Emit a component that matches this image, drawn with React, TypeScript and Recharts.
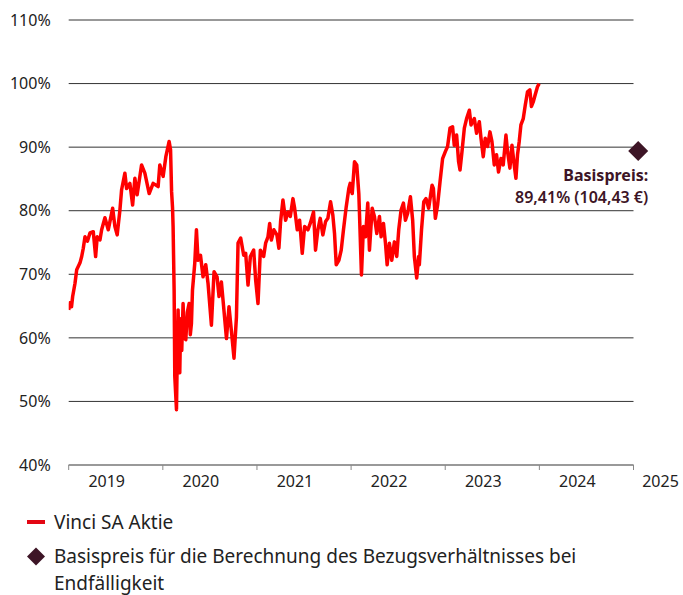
import { LineChart, Line, XAxis, YAxis, CartesianGrid, ReferenceDot } from 'recharts'

// Fractional year (Jan 2019 = 2019.0) and level in % of the strike price
const YEARS = [
  2019.0, 2019.014, 2019.03, 2019.042, 2019.067, 2019.085, 2019.12, 2019.138, 2019.155, 2019.173,
  2019.199, 2019.226, 2019.261, 2019.286, 2019.303, 2019.332, 2019.35, 2019.385, 2019.42, 2019.467,
  2019.491, 2019.515, 2019.544, 2019.562, 2019.597, 2019.615, 2019.65, 2019.679, 2019.703, 2019.727,
  2019.774, 2019.809, 2019.855, 2019.897, 2019.95, 2019.968, 2020.003, 2020.032, 2020.067, 2020.082,
  2020.093, 2020.103, 2020.109, 2020.12, 2020.127, 2020.145, 2020.154, 2020.162, 2020.172, 2020.18,
  2020.19, 2020.201, 2020.215, 2020.228, 2020.244, 2020.26, 2020.279, 2020.292, 2020.304, 2020.315,
  2020.339, 2020.357, 2020.374, 2020.4, 2020.427, 2020.456, 2020.48, 2020.516, 2020.544, 2020.576,
  2020.597, 2020.622, 2020.639, 2020.676, 2020.703, 2020.729, 2020.756, 2020.782, 2020.799, 2020.827,
  2020.859, 2020.88, 2020.905, 2020.93, 2020.965, 2020.986, 2021.011, 2021.036, 2021.071, 2021.092,
  2021.117, 2021.135, 2021.153, 2021.18, 2021.212, 2021.233, 2021.251, 2021.276, 2021.304, 2021.329,
  2021.354, 2021.382, 2021.4, 2021.428, 2021.453, 2021.481, 2021.506, 2021.541, 2021.566, 2021.601,
  2021.622, 2021.647, 2021.672, 2021.7, 2021.729, 2021.753, 2021.782, 2021.806, 2021.824, 2021.842,
  2021.87, 2021.895, 2021.919, 2021.948, 2021.976, 2021.99, 2022.012, 2022.036, 2022.06, 2022.082,
  2022.089, 2022.11, 2022.131, 2022.153, 2022.177, 2022.195, 2022.224, 2022.248, 2022.273, 2022.301,
  2022.319, 2022.344, 2022.365, 2022.383, 2022.407, 2022.432, 2022.46, 2022.485, 2022.506, 2022.531,
  2022.556, 2022.577, 2022.601, 2022.63, 2022.654, 2022.672, 2022.697, 2022.718, 2022.725, 2022.748,
  2022.772, 2022.796, 2022.824, 2022.86, 2022.874, 2022.895, 2022.919, 2022.945, 2022.972, 2023.001,
  2023.025, 2023.051, 2023.078, 2023.096, 2023.121, 2023.142, 2023.157, 2023.178, 2023.203, 2023.227,
  2023.256, 2023.274, 2023.309, 2023.333, 2023.362, 2023.38, 2023.404, 2023.425, 2023.45, 2023.475,
  2023.496, 2023.521, 2023.545, 2023.566, 2023.592, 2023.616, 2023.645, 2023.662, 2023.687, 2023.709,
  2023.733, 2023.751, 2023.768, 2023.786, 2023.804, 2023.829, 2023.85, 2023.874, 2023.899, 2023.916,
  2023.937, 2023.955, 2023.98, 2023.998,
]

const VALUES = [
  64.4, 65.5, 64.9, 66.5, 68.6, 70.7, 71.8, 72.8, 74.1, 75.9,
  75.2, 76.5, 76.7, 72.8, 75.9, 75.4, 77.0, 78.9, 77.0, 80.4,
  77.5, 76.2, 80.1, 83.3, 85.9, 83.5, 84.3, 80.9, 85.1, 82.5,
  87.2, 85.9, 82.7, 84.3, 83.8, 87.2, 85.4, 88.5, 90.9, 89.6,
  83.0, 80.5, 77.5, 67.5, 53.9, 48.7, 58.0, 64.4, 57.0, 54.5,
  63.0, 58.0, 65.4, 60.0, 59.7, 64.0, 65.4, 60.5, 62.3, 67.5,
  71.7, 77.0, 72.2, 73.0, 69.6, 71.5, 68.6, 62.0, 70.4, 69.6,
  66.5, 68.8, 66.0, 59.9, 64.9, 61.0, 56.8, 63.3, 74.9, 75.7,
  73.0, 73.3, 68.3, 72.8, 73.8, 69.1, 65.4, 73.8, 72.8, 74.9,
  75.9, 78.0, 75.4, 77.0, 76.2, 74.1, 78.3, 81.7, 78.5, 79.8,
  79.1, 81.9, 80.4, 77.0, 78.5, 73.3, 77.5, 77.0, 78.0, 79.8,
  73.8, 77.0, 78.8, 76.2, 78.3, 78.8, 81.4, 79.3, 76.4, 71.5,
  72.2, 73.8, 77.0, 80.6, 83.5, 84.3, 82.7, 87.7, 87.2, 82.7,
  79.6, 69.9, 77.5, 75.9, 81.2, 73.8, 80.4, 79.1, 76.4, 79.1,
  75.9, 78.0, 74.9, 71.5, 74.9, 72.2, 75.1, 72.8, 77.0, 80.1,
  81.2, 78.5, 79.6, 82.2, 78.5, 72.8, 69.4, 72.8, 71.5, 77.0,
  81.4, 81.9, 80.4, 84.0, 83.5, 78.8, 80.9, 84.6, 88.2, 89.3,
  90.1, 93.0, 93.2, 90.3, 91.9, 87.7, 86.4, 89.3, 93.0, 94.5,
  95.8, 93.5, 94.5, 92.2, 94.0, 91.4, 88.5, 91.4, 90.1, 92.4,
  90.9, 87.2, 88.8, 86.1, 88.2, 87.2, 91.9, 89.3, 86.7, 90.3,
  87.2, 85.1, 88.8, 90.9, 93.5, 94.5, 96.6, 98.7, 99.0, 96.4,
  97.2, 98.2, 99.5, 100.0,
]

const X_TICKS = [2019, 2020, 2021, 2022, 2023, 2024, 2025]
const Y_TICKS = [40, 50, 60, 70, 80, 90, 100, 110]

const STRIKE_DATE = 2025.05
const STRIKE_LEVEL = 89.41
const STRIKE_LABEL = ['Basispreis:', '89,41% (104,43 €)']

const LEGEND_SERIES = 'Vinci SA Aktie'
const LEGEND_STRIKE = ['Basispreis für die Berechnung des Bezugsverhältnisses bei', 'Endfälligkeit']

const FONT = '"Noto Sans", sans-serif'
const RED = '#ff0000'
const MAROON = '#3d1526'
const TEXT = '#222'

const data = YEARS.map((year, i) => ({ year, value: VALUES[i] }))

function YearTick({ x, y, payload, index }: any) {
  const last = index === X_TICKS.length - 1
  return (
    <text
      x={last ? x + 27 : x + 38}
      y={y}
      dy={15}
      textAnchor="middle"
      fill={TEXT}
      fontSize={16}
      fontFamily={FONT}
    >
      {payload.value}
    </text>
  )
}

function StrikeMarker({ cx, cy }: any) {
  const r = 10
  return (
    <g>
      <path d={`M${cx},${cy - r} L${cx + r},${cy} L${cx},${cy + r} L${cx - r},${cy} Z`} fill={MAROON} />
      <text x={cx + 10} y={cy + 30} textAnchor="end" fill={MAROON} fontSize={16} fontWeight={700} fontFamily={FONT}>
        {STRIKE_LABEL[0]}
      </text>
      <text x={cx + 10} y={cy + 52} textAnchor="end" fill={MAROON} fontSize={16} fontWeight={600} fontFamily={FONT}>
        {STRIKE_LABEL[1]}
      </text>
    </g>
  )
}

export default function App() {
  return (
    <div style={{ position: 'absolute', left: 0, top: 0, width: 683, height: 595, background: '#fff', fontFamily: FONT }}>
      <LineChart
        width={683}
        height={502}
        data={data}
        margin={{ top: 20, right: 49.5, bottom: 0, left: 0 }}
      >
        <CartesianGrid vertical={false} stroke="#333" strokeWidth={1} />
        <XAxis
          dataKey="year"
          type="number"
          domain={[2019, 2025]}
          ticks={X_TICKS}
          allowDataOverflow
          height={37}
          tick={<YearTick />}
          tickSize={5}
          tickLine={{ stroke: '#888' }}
          axisLine={{ stroke: '#999' }}
          interval={0}
        />
        <YAxis
          type="number"
          domain={[40, 110]}
          ticks={Y_TICKS}
          width={68.7}
          axisLine={false}
          tickLine={false}
          tickMargin={12}
          tickFormatter={v => `${v}%`}
          tick={{ fill: TEXT, fontSize: 16, fontFamily: FONT }}
        />
        <Line
          dataKey="value"
          type="linear"
          stroke={RED}
          strokeWidth={3.5}
          strokeLinejoin="round"
          dot={false}
          isAnimationActive={false}
        />
        <ReferenceDot
          x={STRIKE_DATE}
          y={STRIKE_LEVEL}
          ifOverflow="visible"
          shape={<StrikeMarker />}
        />
      </LineChart>

      <div style={{ position: 'absolute', left: 0, top: 508, width: 683, color: TEXT, fontSize: 19, lineHeight: '27px' }}>
        <div style={{ display: 'flex', alignItems: 'center', height: 28 }}>
          <span style={{ display: 'inline-block', width: 18, height: 4, background: '#e30613', marginLeft: 27, marginRight: 9 }} />
          <span>{LEGEND_SERIES}</span>
        </div>
        <div style={{ display: 'flex', alignItems: 'flex-start', marginTop: 7 }}>
          <svg width={20} height={27} style={{ marginLeft: 26, marginRight: 8, flex: 'none' }}>
            <path d="M10,4.5 L19,13.5 L10,22.5 L1,13.5 Z" fill={MAROON} />
          </svg>
          <div>
            <div>{LEGEND_STRIKE[0]}</div>
            <div>{LEGEND_STRIKE[1]}</div>
          </div>
        </div>
      </div>
    </div>
  )
}
